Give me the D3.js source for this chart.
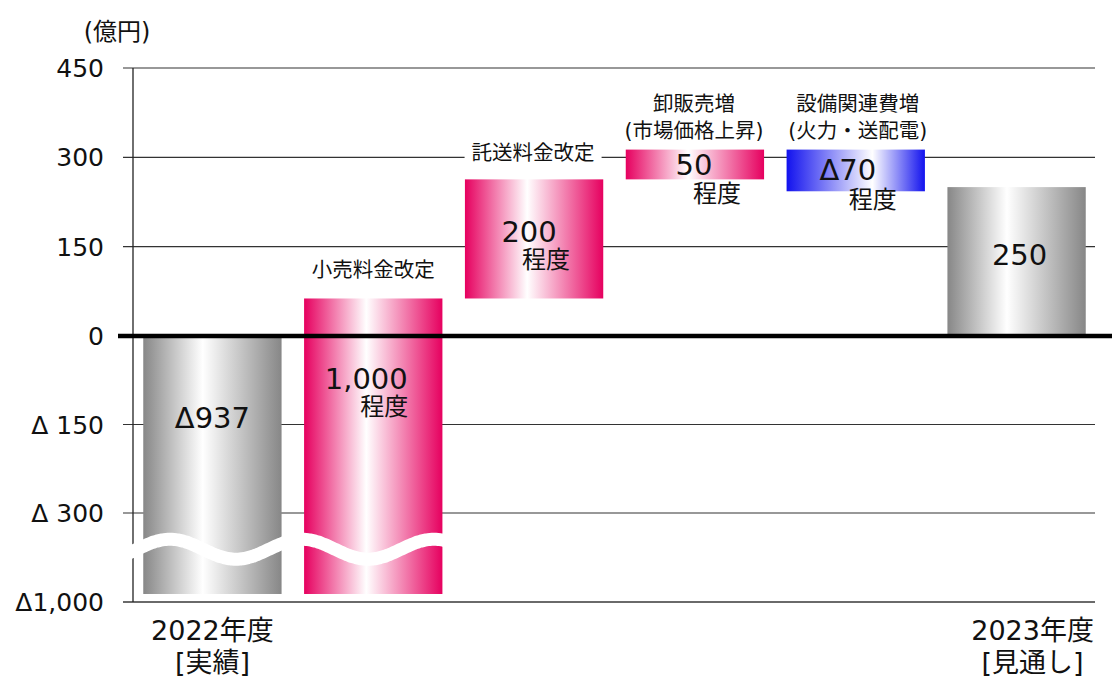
<!DOCTYPE html>
<html><head><meta charset="utf-8">
<script src="https://cdn.jsdelivr.net/npm/d3@7"></script>
<style>
body{margin:0;background:#fff;}
text{font-family:"DejaVu Sans","Noto Sans CJK JP",sans-serif;fill:#111;}
</style>
</head><body>
<svg id="c" width="1112" height="679"></svg>
<script>
// ---------- data ----------
const categories = ["2022年度","小売料金改定","託送料金改定","卸販売増","設備関連費増","2023年度"];
const kinds = ["total","delta","delta","delta","delta","total"];
const values = [-937, 1000, 200, 50, -70, 250];
const valueLabels = ["Δ937","1,000","200","50","Δ70","250"];
const subLabels = ["","程度","程度","程度","程度",""];
const topLabels = [[],["小売料金改定"],["託送料金改定"],["卸販売増","(市場価格上昇)"],["設備関連費増","(火力・送配電)"],[]];
const axisLabels = [["2022年度","[実績]"],[],[],[],[],["2023年度","[見通し]"]];
const tickValues = [450,300,150,0,-150,-300,-1000];
const tickLabels = ["450","300","150","0","Δ 150","Δ 300","Δ1,000"];
const unitLabel = "(億円)";
const breakValue = -585;

// ---------- layout (styles/offsets) ----------
const valueOffsets = [[0,92],[-7,91],[-5,63],[-1,25],[-8,30],[3,78]];
const subOffsets   = [null,[11,117],[12,89],[22,52],[17,58],null];
const topOffsets   = [null,[0,-21],[-1,-19],[-1,-39],[2,-39]];
const axisDx = [0,0,0,0,0,16];

const svg = d3.select("#c");
const W = 1112, H = 679;

const y = d3.scaleLinear().domain([-1000,-300,0,450]).range([602,513,336,68]);
const x = d3.scaleBand().domain(categories).range([132,1097]).paddingInner(0.14).paddingOuter(0.07);

// gradients
const defs = svg.append("defs");
function grad(id, c, mid){
  const g = defs.append("linearGradient").attr("id",id).attr("x1","0%").attr("x2","100%").attr("y1","0%").attr("y2","0%");
  g.append("stop").attr("offset","0%").attr("stop-color",c);
  g.append("stop").attr("offset",mid).attr("stop-color","#ffffff");
  g.append("stop").attr("offset","100%").attr("stop-color",c);
}
grad("gGray","#878787","43%");
grad("gPink","#e6005f","45%");
grad("gBlue","#1212ee","62%");

// gridlines
const gx0 = 123, gx1 = 1095;
svg.append("g").selectAll("line").data(tickValues.filter(t=>t!==0)).join("line")
  .attr("x1",gx0).attr("x2",gx1)
  .attr("y1",d=>y(d)).attr("y2",d=>y(d))
  .attr("stroke",d=>d===-1000?"#6a6a6a":"#333")
  .attr("stroke-width",d=>d===-1000?2:1.1);

// y axis line
svg.append("line").attr("x1",133).attr("x2",133).attr("y1",y(450)).attr("y2",y(-1000))
  .attr("stroke","#222").attr("stroke-width",1.3);

// tick labels
svg.append("g").selectAll("text").data(tickValues).join("text")
  .attr("x",104).attr("y",d=>y(d)+9).attr("text-anchor","end")
  .attr("font-size",25).text((d,i)=>tickLabels[i]);

svg.append("text").attr("x",117).attr("y",40).attr("text-anchor","middle")
  .attr("font-size",24).text(unitLabel);

// bars
let cum = 0;
const rows = categories.map((c,i)=>{
  let a,b;
  if(kinds[i]==="total"){a=0;b=values[i];cum=values[i];}
  else {a=cum;b=cum+values[i];cum=b;}
  const fill = kinds[i]==="total" ? "url(#gGray)" : (values[i]>=0 ? "url(#gPink)" : "url(#gBlue)");
  return {c,i,a,b,fill};
});

svg.append("g").selectAll("rect").data(rows).join("rect")
  .attr("x",d=>x(d.c)).attr("width",x.bandwidth())
  .attr("y",d=>Math.min(y(d.a),y(d.b)))
  .attr("height",d=>Math.abs(y(d.a)-y(d.b)))
  .attr("fill",d=>d.fill);

// break wave
const yc = y(breakValue);
const wx0 = 126, wx1 = x(categories[1]) + x.bandwidth() + 6;
const wpts = d3.range(wx0, wx1+1, 2).map(px=>[px, yc - 10*Math.cos(2*Math.PI*(px-170)/132)]);
svg.append("path").attr("d",d3.line().curve(d3.curveBasis)(wpts))
  .attr("fill","none").attr("stroke","#fff").attr("stroke-width",13);

// zero line
svg.append("line").attr("x1",118).attr("x2",W).attr("y1",y(0)).attr("y2",y(0))
  .attr("stroke","#000").attr("stroke-width",4.5);

// value labels
rows.forEach(d=>{
  const top = Math.min(y(d.a),y(d.b));
  const cx = x(d.c)+x.bandwidth()/2;
  const vo = valueOffsets[d.i];
  svg.append("text").attr("x",cx+vo[0]).attr("y",top+vo[1]).attr("text-anchor","middle")
    .attr("font-size",29).text(valueLabels[d.i]);
  if(subLabels[d.i]){
    const so = subOffsets[d.i];
    svg.append("text").attr("x",cx+so[0]).attr("y",top+so[1]).attr("text-anchor","middle")
      .attr("font-size",24).text(subLabels[d.i]);
  }
  const tl = topLabels[d.i];
  if(tl.length){
    const to = topOffsets[d.i];
    const g = svg.append("g");
    const t = g.append("text").attr("x",cx+to[0]).attr("y",top+to[1]).attr("text-anchor","middle")
      .attr("font-size",20.5);
    tl.forEach((s,k)=>t.append("tspan").attr("x",cx+to[0]).attr("dy",k?27:0).text(s));
    const bb = t.node().getBBox();
    g.insert("rect","text").attr("x",bb.x-7).attr("y",bb.y+3).attr("width",bb.width+14).attr("height",bb.height-6)
      .attr("fill","#fff");
  }
  const al = axisLabels[d.i];
  if(al.length){
    const t = svg.append("text").attr("text-anchor","middle").attr("font-size",27);
    al.forEach((s,k)=>t.append("tspan").attr("x",cx+axisDx[d.i]).attr("y",k?672:640).text(s));
  }
});
</script>
</body></html>
